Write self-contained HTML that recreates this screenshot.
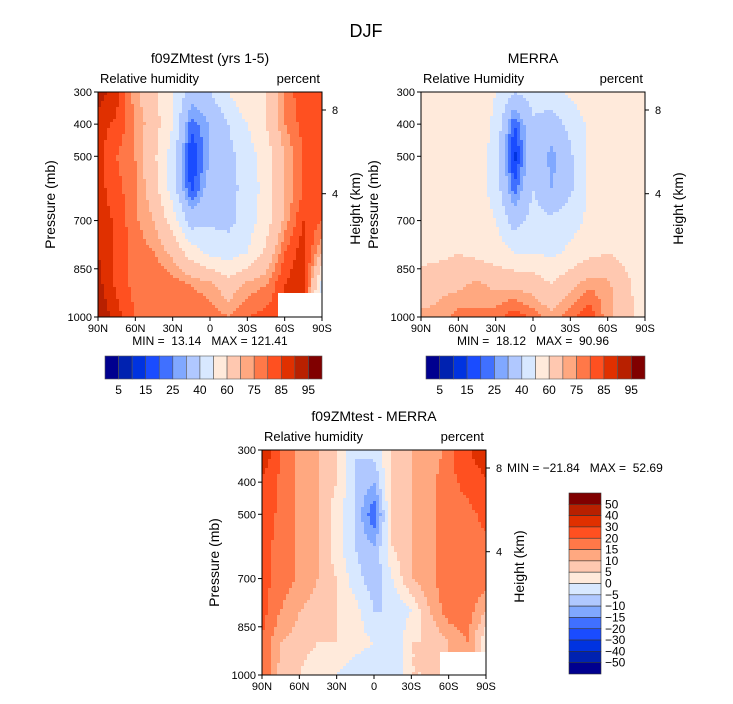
<!DOCTYPE html>
<html><head><meta charset="utf-8">
<style>
body{margin:0;background:#fff;width:733px;height:699px;overflow:hidden;font-family:"Liberation Sans",Arial,sans-serif}
svg text{font-family:"Liberation Sans",Arial,sans-serif;fill:#000;white-space:pre}
</style></head><body>
<svg id="chart" width="733" height="699" viewBox="0 0 733 699" xmlns="http://www.w3.org/2000/svg">
<text x="366" y="37" font-size="18" text-anchor="middle">DJF</text>
</svg>
<script>
const lats=[90,75,60,45,30,15,0,-15,-30,-45,-60,-75,-90];
const levs=[1000,900,800,700,600,500,400,300];
const palette=["#00008f","#0022b0","#0033e0","#1a4cff","#4070ff","#80a8ff","#b0c8ff","#d8e8ff","#ffeadb","#ffc8b0","#ffa880","#ff7848","#ff5020","#e03000","#b82000","#800000"];
const rhLevels=[5,10,15,20,25,30,40,50,60,70,75,80,85,90,95];
const rhLabels=["5","15","25","40","60","75","85","95"];
const diffLevels=[-50,-40,-30,-20,-15,-10,-5,0,5,10,15,20,30,40,50];
const latLabels=["90N","60N","30N","0","30S","60S","90S"];
const presTicks=[300,400,500,700,850,1000];
// rows: 1000..300 mb, columns 90N..90S
const modelRH=[
[95,87,80,78,80,80,78,75,80,82,85,90,40],
[92,84,78,80,78,75,72,65,72,75,85,90,45],
[90,84,78,75,68,55,48,45,50,62,80,88,70],
[88,84,76,70,55,35,38,37,45,55,72,85,80],
[87,82,76,65,45,18,35,38,42,55,70,80,82],
[87,80,75,62,45,14,30,37,45,55,70,80,85],
[87,84,75,65,50,22,30,40,50,60,75,82,85],
[93,87,72,62,50,35,40,50,60,60,75,85,85]];
const merraRH=[
[72,72,78,76,78,84,78,72,78,84,72,66,50],
[64,68,68,72,68,68,66,60,68,74,72,62,55],
[57,57,60,57,55,50,50,48,52,57,60,57,55],
[55,57,57,55,50,35,44,42,46,52,55,55,55],
[55,57,57,55,46,22,40,30,38,52,57,57,57],
[57,57,57,55,46,12,40,27,38,52,57,57,57],
[57,60,57,55,48,20,38,35,43,52,57,57,55],
[55,55,55,57,50,40,45,46,52,55,57,55,55]];
const diffRH=[
[20,8,5,0,0,-3,-5,-5,5,5,10,15,0],
[20,10,8,5,5,2,0,-5,5,5,10,15,0],
[22,15,10,8,5,2,-5,-5,0,10,18,18,10],
[22,18,14,10,5,-3,-8,0,10,14,18,18,18],
[22,18,14,10,2,-5,-10,5,10,14,18,18,18],
[25,18,14,10,2,-5,-20,8,10,14,18,18,22],
[28,18,14,10,5,-5,-10,8,10,14,18,22,28],
[40,20,14,10,5,-5,-3,5,10,10,18,28,40]];

const NS="http://www.w3.org/2000/svg";
const svg=document.getElementById('chart');
function mk(tag,attrs,parent,txt){const e=document.createElementNS(NS,tag);for(const k in attrs)e.setAttribute(k,attrs[k]);if(txt!==undefined)e.textContent=txt;(parent||svg).appendChild(e);return e;}
function colorFor(v,levels){let i=0;while(i<levels.length&&v>=levels[i])i++;return palette[i];}
function sample(grid,lat,p){
  let fx=(90-lat)/15, fy=(p-1000)/-100;
  fx=Math.max(0,Math.min(lats.length-1,fx)); fy=Math.max(0,Math.min(levs.length-1,fy));
  const x0=Math.min(Math.floor(fx),lats.length-2), y0=Math.min(Math.floor(fy),levs.length-2);
  const tx=fx-x0, ty=fy-y0;
  const a=grid[y0][x0],b=grid[y0][x0+1],c=grid[y0+1][x0],d=grid[y0+1][x0+1];
  return a*(1-tx)*(1-ty)+b*tx*(1-ty)+c*(1-tx)*ty+d*tx*ty;
}
function drawPanel(cfg){
  const {x0,y0,w,h,grid,levels,title,name}=cfg;
  const g=mk('g',{});
  
  
  const ys=p=>y0+(p-300)/700*h;
  const step=3;
  for(let px=0;px<w;px+=step){for(let py=0;py<h;py+=step){
    const lat=90-(px+step/2)/w*180, p=300+(py+step/2)/h*700;
    const v=sample(grid,lat,p);
    const r=mk('rect',{x:x0+px,y:y0+py,width:Math.min(step,w-px)+0.4,height:Math.min(step,h-py)+0.4,fill:colorFor(v,levels)},g);
    
    
  }}
  if(cfg.mask){const m=mk('rect',{x:x0+w-cfg.mask[0],y:y0+h-cfg.mask[1],width:cfg.mask[0],height:cfg.mask[1],fill:'#fff'},g);
    }
  const fr=mk('rect',{x:x0,y:y0,width:w,height:h,fill:'none',stroke:'#000','stroke-width':1},g);
  
  presTicks.forEach(p=>{const y=ys(p);
    mk('line',{x1:x0-4,x2:x0,y1:y,y2:y,stroke:'#000'},g);
    const t=mk('text',{x:x0-6,y:y+4,'font-size':11,'text-anchor':'end'},g,String(p));
    });
  latLabels.forEach((l,i)=>{const x=x0+i*w/6;
    mk('line',{x1:x,x2:x,y1:y0+h,y2:y0+h+4,stroke:'#000'},g);
    const t=mk('text',{x:x,y:y0+h+15,'font-size':11,'text-anchor':'middle'},g,l);
    });
  [[8,0.08],[4,0.452]].forEach(([km,f])=>{const y=y0+f*h;
    mk('line',{x1:x0+w,x2:x0+w+4,y1:y,y2:y,stroke:'#000'},g);
    const t=mk('text',{x:x0+w+10,y:y+4,'font-size':11},g,String(km));
    });
  let t=mk('text',{x:x0+w/2,y:y0-29,'font-size':14,'text-anchor':'middle'},g,title);
  
  t=mk('text',{x:x0+2,y:y0-9,'font-size':13},g,'Relative humidity'.replace('humidity',cfg.rhcase||'humidity'));
  
  t=mk('text',{x:x0+w-2,y:y0-9,'font-size':13,'text-anchor':'end'},g,'percent');
  
  t=mk('text',{x:x0-43,y:y0+h/2,'font-size':14,'text-anchor':'middle',transform:`rotate(-90 ${x0-43} ${y0+h/2})`},g,'Pressure (mb)');
  
  t=mk('text',{x:x0+w+38,y:y0+h/2+4,'font-size':14,'text-anchor':'middle',transform:`rotate(-90 ${x0+w+38} ${y0+h/2+4})`},g,'Height (km)');
  
  if(cfg.minmax){t=mk('text',{x:cfg.minmax[0],y:cfg.minmax[1],'font-size':12,'text-anchor':cfg.minmax[2]||'middle'},g,cfg.minmax[3]);
    }
}
function hColorbar(x0,y0,w,h,name){
  const g=mk('g',{});
  
  const bw=w/palette.length;
  palette.forEach((c,i)=>{const r=mk('rect',{x:x0+i*bw,y:y0,width:bw,height:h,fill:c,stroke:'#555','stroke-width':0.6},g);
    });
  rhLabels.forEach((l,i)=>{const t=mk('text',{x:x0+(2*i+1)*bw,y:y0+h+15,'font-size':12,'text-anchor':'middle'},g,l);
    });
}
function vColorbar(x0,y0,w,h,name){
  const g=mk('g',{});
  
  const bh=h/palette.length;
  palette.slice().reverse().forEach((c,i)=>{const r=mk('rect',{x:x0,y:y0+i*bh,width:w,height:bh,fill:c,stroke:'#333','stroke-width':0.6},g);
    });
  diffLevels.slice().reverse().forEach((l,i)=>{const t=mk('text',{x:x0+w+4,y:y0+(i+1)*bh+4,'font-size':12},g,String(l).replace('-','\u2212'));
    });
}
drawPanel({x0:98,y0:92,w:224,h:225,grid:modelRH,levels:rhLevels,title:'f09ZMtest (yrs 1-5)',name:'model-panel',mask:[44,24],minmax:[210,345,'middle','MIN =  13.14   MAX = 121.41']});
drawPanel({x0:421,y0:92,w:224,h:225,grid:merraRH,levels:rhLevels,title:'MERRA',name:'merra-panel',rhcase:'Humidity',minmax:[533,345,'middle','MIN =  18.12   MAX =  90.96']});
drawPanel({x0:262,y0:450,w:224,h:225,grid:diffRH,levels:diffLevels,title:'f09ZMtest - MERRA',name:'difference-panel',mask:[46,23],minmax:[507,472,'start','MIN = \u221221.84   MAX =  52.69']});
hColorbar(105,356,217,23,'model-colorbar');
hColorbar(426,356,219,23,'merra-colorbar');
vColorbar(569,493,32,181,'difference-colorbar');
</script>
</body></html>
